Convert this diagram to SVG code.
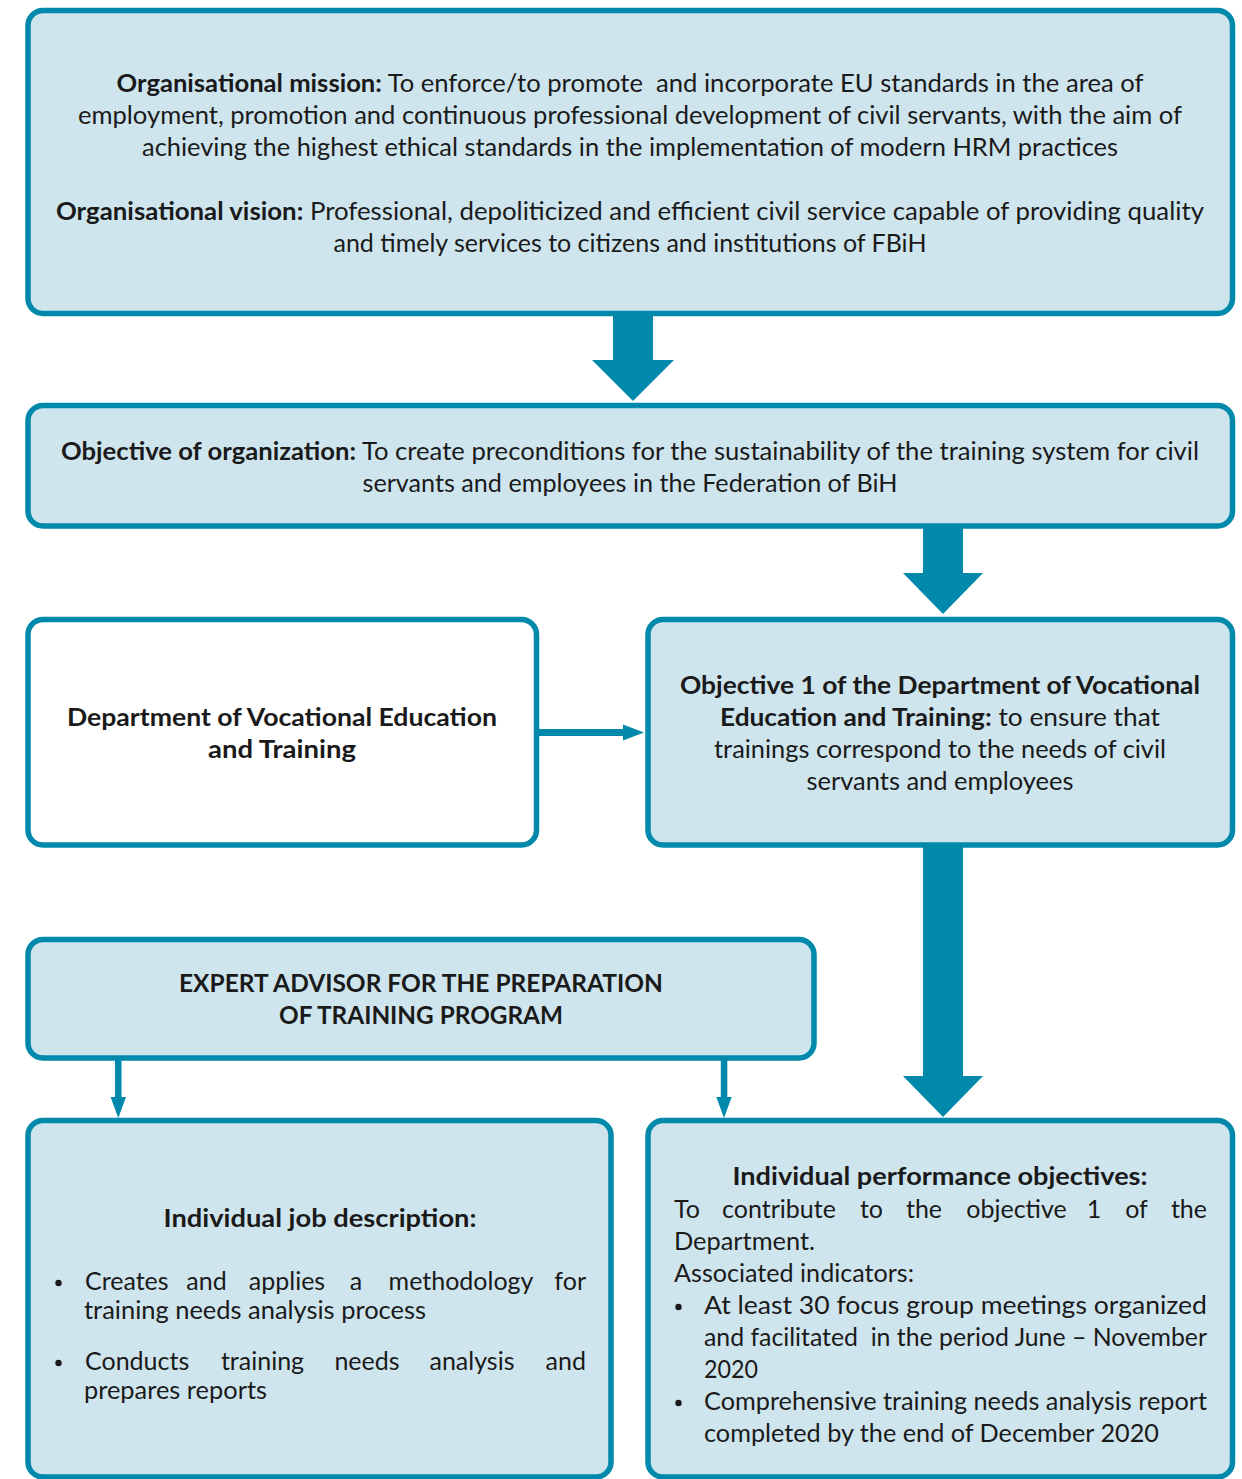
<svg xmlns="http://www.w3.org/2000/svg" width="1242" height="1479" viewBox="0 0 1242 1479">
<style>
.box{fill:#cfe5ee;stroke:#0089ab;stroke-width:5.5}
.wbox{fill:#ffffff;stroke:#0089ab;stroke-width:5.5}
.arr{fill:#0089ab;stroke:none}
.dot{fill:#1a1a1a}
text{font-family:Lato,"Liberation Sans",sans-serif;font-size:25px;fill:#1a1a1a}
.c{text-anchor:middle}
.e{text-anchor:end}
.b{font-weight:bold}
</style>
<rect width="1242" height="1479" fill="#ffffff"/>
<g id="connectors">
<polygon class="arr" points="613,313 653,313 653,360 674,360 633,401 592,360 613,360"/>
<polygon class="arr" points="923,526 963,526 963,573 983,573 943,614 903,573 923,573"/>
<polygon class="arr" points="923,845 963,845 963,1076 983,1076 943,1117 903,1076 923,1076"/>
<polygon class="arr" points="537,729 623,729 623,724.5 644,732.5 623,740.5 623,736 537,736"/>
<polygon class="arr" points="115,1058 121.5,1058 121.5,1097 126,1097 118.3,1118 110.6,1097 115,1097"/>
<polygon class="arr" points="720.8,1058 727.3,1058 727.3,1097 731.7,1097 724,1118 716.3,1097 720.8,1097"/>
</g>
<g id="mission">
<rect class="box" x="28" y="10.5" width="1204.5" height="303" rx="15"/>
<text class="c" x="630" y="92" textLength="1027" lengthAdjust="spacingAndGlyphs" xml:space="preserve"><tspan class="b">Organisational mission:</tspan> To enforce/to promote  and incorporate EU standards in the area of</text>
<text class="c" x="630" y="124" textLength="1104" lengthAdjust="spacingAndGlyphs">employment, promotion and continuous professional development of civil servants, with the aim of</text>
<text class="c" x="630" y="156" textLength="976" lengthAdjust="spacingAndGlyphs">achieving the highest ethical standards in the implementation of modern HRM practices</text>
<text class="c" x="630" y="220" textLength="1148" lengthAdjust="spacingAndGlyphs"><tspan class="b">Organisational vision:</tspan> Professional, depoliticized and efficient civil service capable of providing quality</text>
<text class="c" x="630" y="252" textLength="593" lengthAdjust="spacingAndGlyphs">and timely services to citizens and institutions of FBiH</text>
</g>
<g id="objective-org">
<rect class="box" x="28" y="405.5" width="1204.5" height="120.5" rx="15"/>
<text class="c" x="630" y="460" textLength="1138" lengthAdjust="spacingAndGlyphs"><tspan class="b">Objective of organization:</tspan> To create preconditions for the sustainability of the training system for civil</text>
<text class="c" x="630" y="492" textLength="535" lengthAdjust="spacingAndGlyphs">servants and employees in the Federation of BiH</text>
</g>
<g id="department">
<rect class="wbox" x="28" y="619.5" width="508.5" height="225.5" rx="15"/>
<text class="c b" x="282" y="726" textLength="430" lengthAdjust="spacingAndGlyphs">Department of Vocational Education</text>
<text class="c b" x="282" y="758" textLength="148" lengthAdjust="spacingAndGlyphs">and Training</text>
</g>
<g id="objective1">
<rect class="box" x="648" y="619.5" width="584.5" height="225.5" rx="15"/>
<text class="c b" x="940" y="694" textLength="520" lengthAdjust="spacingAndGlyphs">Objective 1 of the Department of Vocational</text>
<text class="c" x="940" y="726" textLength="440" lengthAdjust="spacingAndGlyphs"><tspan class="b">Education and Training:</tspan> to ensure that</text>
<text class="c" x="940" y="758" textLength="452" lengthAdjust="spacingAndGlyphs">trainings correspond to the needs of civil</text>
<text class="c" x="940" y="790" textLength="267" lengthAdjust="spacingAndGlyphs">servants and employees</text>
</g>
<g id="expert">
<rect class="box" x="28" y="939.5" width="786" height="118.5" rx="15"/>
<text class="c b" x="421" y="992" textLength="484" lengthAdjust="spacingAndGlyphs">EXPERT ADVISOR FOR THE PREPARATION</text>
<text class="c b" x="421" y="1024" textLength="284" lengthAdjust="spacingAndGlyphs">OF TRAINING PROGRAM</text>
</g>
<g id="job-description">
<rect class="box" x="28" y="1120.5" width="583" height="356.5" rx="15"/>
<text class="c b" x="320" y="1227" textLength="313" lengthAdjust="spacingAndGlyphs">Individual job description:</text>
<circle class="dot" cx="58.5" cy="1283" r="3.2"/>
<text x="85" y="1290">Creates</text>
<text class="c" x="206.5" y="1290">and</text>
<text class="c" x="287" y="1290">applies</text>
<text class="c" x="356" y="1290">a</text>
<text class="c" x="461" y="1290">methodology</text>
<text class="e" x="586" y="1290">for</text>
<text x="84" y="1319" textLength="342" lengthAdjust="spacingAndGlyphs">training needs analysis process</text>
<circle class="dot" cx="58.5" cy="1363" r="3.2"/>
<text x="85" y="1370">Conducts</text>
<text class="c" x="262.5" y="1370">training</text>
<text class="c" x="367" y="1370">needs</text>
<text class="c" x="472" y="1370">analysis</text>
<text class="e" x="586" y="1370">and</text>
<text x="84" y="1399" textLength="183" lengthAdjust="spacingAndGlyphs">prepares reports</text>
</g>
<g id="performance-objectives">
<rect class="box" x="648" y="1120.5" width="584.5" height="356.5" rx="15"/>
<text class="c b" x="940" y="1185" textLength="415" lengthAdjust="spacingAndGlyphs">Individual performance objectives:</text>
<text x="674" y="1218">To</text>
<text class="c" x="779" y="1218">contribute</text>
<text class="c" x="871.5" y="1218">to</text>
<text class="c" x="924" y="1218">the</text>
<text class="c" x="1016.5" y="1218">objective</text>
<text class="c" x="1094" y="1218">1</text>
<text class="c" x="1136.5" y="1218">of</text>
<text class="e" x="1207" y="1218">the</text>
<text x="674" y="1250" textLength="141" lengthAdjust="spacingAndGlyphs">Department.</text>
<text x="674" y="1282" textLength="240" lengthAdjust="spacingAndGlyphs">Associated indicators:</text>
<circle class="dot" cx="678.5" cy="1307" r="3.2"/>
<text x="704" y="1314" textLength="503" lengthAdjust="spacingAndGlyphs">At least 30 focus group meetings organized</text>
<text x="704" y="1346" textLength="503" lengthAdjust="spacingAndGlyphs" xml:space="preserve">and facilitated  in the period June – November</text>
<text x="704" y="1378" textLength="54" lengthAdjust="spacingAndGlyphs">2020</text>
<circle class="dot" cx="678.5" cy="1403" r="3.2"/>
<text x="704" y="1410" textLength="503" lengthAdjust="spacingAndGlyphs">Comprehensive training needs analysis report</text>
<text x="704" y="1442" textLength="455" lengthAdjust="spacingAndGlyphs">completed by the end of December 2020</text>
</g>
</svg>
